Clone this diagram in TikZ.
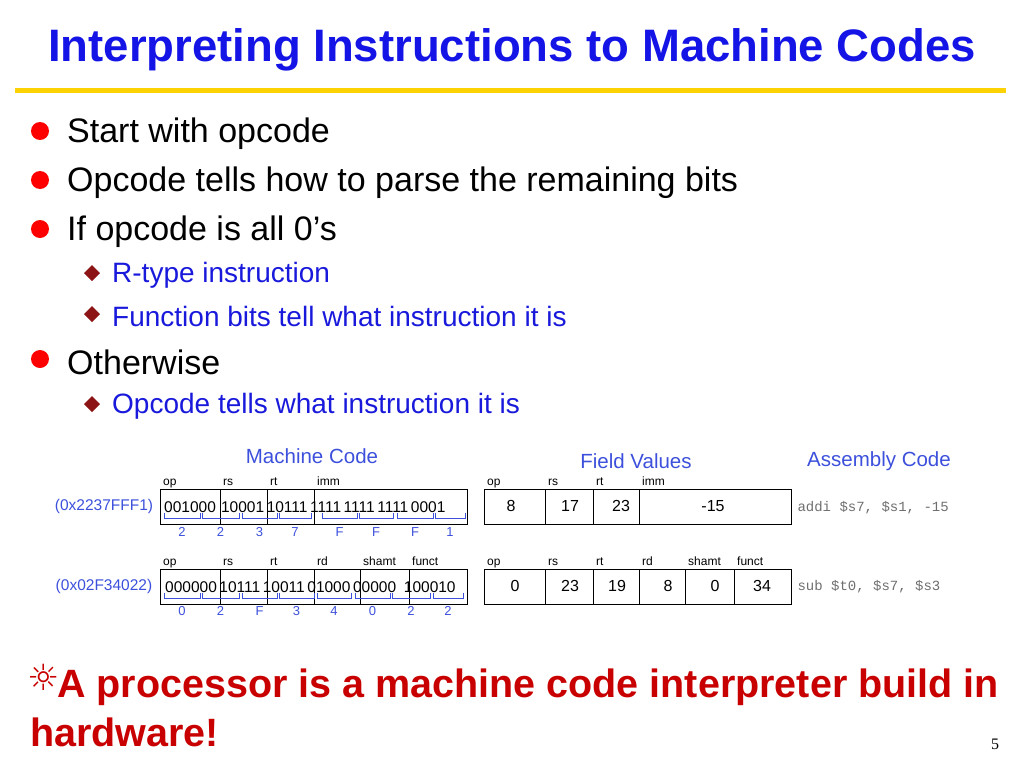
\documentclass[tikz,border=0pt]{standalone}
\usepackage{fontspec}
\setmainfont{Liberation Sans}
\newfontfamily\djv{DejaVu Sans}
\newfontfamily\cour{Liberation Mono}
\newfontfamily\serifn{Liberation Serif}
\definecolor{ttl}{RGB}{20,20,230}
\definecolor{sub}{RGB}{25,25,220}
\definecolor{lbl}{RGB}{60,80,220}
\definecolor{bred}{RGB}{200,0,0}
\definecolor{dia}{RGB}{140,20,20}
\definecolor{asm}{RGB}{110,110,110}
\begin{document}
\begin{tikzpicture}[x=1pt,y=-1pt,
  bul/.style={anchor=west,inner sep=0,font=\fontsize{34}{34}\selectfont},
  sbul/.style={anchor=west,inner sep=0,text=sub,font=\fontsize{28}{28}\selectfont},
  fld/.style={font=\fontsize{12}{12}\selectfont,anchor=base west,inner sep=0},
  bits/.style={font=\fontsize{15.5}{15.5}\selectfont},
  hexd/.style={text=lbl,font=\fontsize{13}{13}\selectfont},
  val/.style={font=\fontsize{16}{16}\selectfont},
  head/.style={text=lbl,font=\fontsize{20.5}{20.5}\selectfont},
  brk/.style={draw=lbl,line width=0.8pt}]
\useasboundingbox (0,0) rectangle (1024,768);
\node (title) at (512,50) [text=ttl,font=\bfseries\fontsize{45.5}{45.5}\selectfont] {Interpreting Instructions to Machine Codes};
\fill[yellow!70!orange] (15,88) rectangle (1006,93);
% bullets
\foreach \y/\t in {131/Start with opcode,180/Opcode tells how to parse the remaining bits,229/If opcode is all 0’s,359/Otherwise}{
  \fill[red] (40,\y) circle (9);
  \node[bul] at (67,\y+3) {\t};}
\foreach \y/\t in {273/R-type instruction,314/Function bits tell what instruction it is,404/Opcode tells what instruction it is}{
  \fill[dia] (92,\y-8) -- (100,\y) -- (92,\y+8) -- (84,\y) -- cycle;
  \node[sbul] at (112,\y+2) {\t};}
% headings
\node[head] (mc) at (312,456) {Machine Code};
\node[head] (fv) at (636,461) {Field Values};
\node[head] (ac) at (879,461) {Assembly Code};
% row 1 machine
\draw[line width=0.8pt] (160,489) rectangle (467,524);
\foreach \x in {220,267,314} \draw[line width=0.8pt] (\x,489) -- (\x,524);
\foreach \x/\t in {163/op,223/rs,270/rt,317/imm} \node[fld] at (\x,485) {\t};
\node[text=lbl,font=\fontsize{15.5}{15.5}\selectfont] (h1) at (104,506) {(0x2237FFF1)};
\node[bits,anchor=base west,inner sep=0] (b1) at (164,512) {001000\,\,10001\,10111\,1111\,1111\,1111\,0001};
\foreach \a/\b/\d in {164/200/2,202/239/2,242/277/3,279/311/7,322/357/F,359/393/F,397/433/F,435/465/1}{
  \draw[brk] (\a,513) -- (\a,518) -- (\b,518) -- (\b,513);
  \node[hexd] at ({(\a+\b)/2},532) {\d};}
% row 2 machine
\draw[line width=0.8pt] (160,569) rectangle (467,604);
\foreach \x in {220,267,314,360,409} \draw[line width=0.8pt] (\x,569) -- (\x,604);
\foreach \x/\t in {163/op,223/rs,270/rt,317/rd,363/shamt,412/funct} \node[fld] at (\x,565) {\t};
\node[text=lbl,font=\fontsize{15.5}{15.5}\selectfont] (h2) at (104,586) {(0x02F34022)};
\node[bits,anchor=base west,inner sep=0] (b2) at (165,592) {000000\,10111\,10011\,01000\,00000\,\,\,100010};
\foreach \a/\b/\d in {164/200/0,202/239/2,242/277/F,279/314/3,317/351/4,355/390/0,392/430/2,433/463/2}{
  \draw[brk] (\a,593) -- (\a,598) -- (\b,598) -- (\b,593);
  \node[hexd] at ({(\a+\b)/2},611) {\d};}
% field values
\draw[line width=0.8pt] (484,489) rectangle (791,524);
\foreach \x in {545,593,639} \draw[line width=0.8pt] (\x,489) -- (\x,524);
\foreach \x/\t in {487/op,548/rs,596/rt,642/imm} \node[fld] at (\x,485) {\t};
\foreach \x/\t in {511/8,570/17,621/23,713/-15} \node[val] at (\x,506) {\t};
\draw[line width=0.8pt] (484,569) rectangle (791,604);
\foreach \x in {545,593,639,685,734} \draw[line width=0.8pt] (\x,569) -- (\x,604);
\foreach \x/\t in {487/op,548/rs,596/rt,642/rd,688/shamt,737/funct} \node[fld] at (\x,565) {\t};
\foreach \x/\t in {515/0,570/23,617/19,668/8,715/0,762/34} \node[val] at (\x,586) {\t};
\node[anchor=west,text=asm,font=\cour\fontsize{14}{14}\selectfont] (a1) at (794,508) {addi \$s7, \$s1, -15};
\node[anchor=west,text=asm,font=\cour\fontsize{14}{14}\selectfont] (a2) at (794,587) {sub \$t0, \$s7, \$s3};
% bottom
\node[anchor=west,text=bred,font=\djv\fontsize{36}{36}\selectfont,inner sep=0] (sun) at (27,677) {☼};
\node[anchor=base west,text=bred,font=\bfseries\fontsize{39.5}{39.5}\selectfont,inner sep=0] (l1) at (57,697) {A processor is a machine code interpreter build in};
\node[anchor=base west,text=bred,font=\bfseries\fontsize{39.5}{39.5}\selectfont,inner sep=0] (l2) at (30,746) {hardware!};
\node[font=\serifn\fontsize{16}{16}\selectfont] (pg) at (995,744) {5};
\end{tikzpicture}
\end{document}
